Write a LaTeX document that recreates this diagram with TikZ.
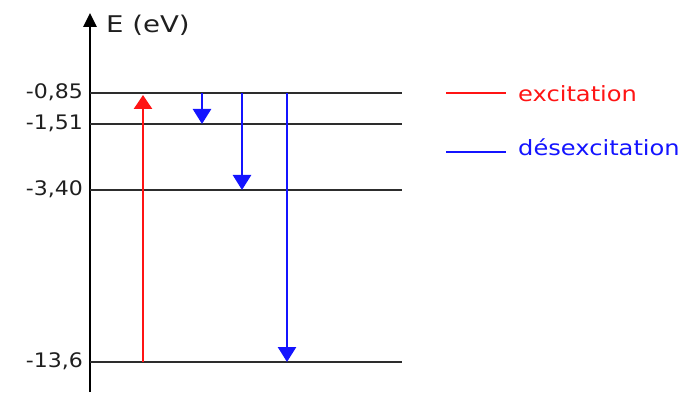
\documentclass[tikz,border=0pt]{standalone}
\usepackage{fontspec}
\setmainfont{DejaVu Sans}
\usetikzlibrary{arrows.meta}
\definecolor{exc}{RGB}{255,20,20}
\definecolor{desexc}{RGB}{20,20,255}
\definecolor{lvl}{RGB}{45,45,45}
\tikzset{
  axis/.style={line width=2.6pt,-{Triangle[length=14pt,width=13pt]}},
  niveau/.style={draw=lvl,line width=2.6pt},
  up/.style={draw=exc,line width=2.6pt,-{Triangle[length=14pt,width=18pt]},shorten >=2pt},
  down/.style={draw=desexc,line width=2.6pt,-{Triangle[length=15pt,width=18pt]}},
  txt/.style={inner sep=0pt,xscale=1.1,font=\fontsize{20}{24}\selectfont,text=black!88},
  leg/.style={txt,xscale=1.045,font=\fontsize{21}{25}\selectfont}
}

\begin{document}
\begin{tikzpicture}[x=1pt,y=-1pt]
  \useasboundingbox (0,0) rectangle (693,395);

  % axe des energies
  \coordinate (O) at (90,392);
  \coordinate (Top) at (90,13);
  \draw[axis] (O) -- (Top);
  \node[txt,xscale=1.09,font=\fontsize{23}{27}\selectfont,anchor=west] (E) at (106,25) {E (eV)};

  % niveaux d'energie
  \foreach \n/\y/\v in {1/362/{-13,6},2/190/{-3,40},3/124/{-1,51},4/93/{-0,85}}{
    \coordinate (n\n) at (90,\y);
    \coordinate (m\n) at (402,\y);
    \draw[niveau] (n\n) -- (m\n);
    \node[txt,anchor=mid east] (v\n) at (83,\y+3) {\v};
  }

  % transitions
  \coordinate (c1) at (143,0);
  \coordinate (c2) at (202,0);
  \coordinate (c3) at (242,0);
  \coordinate (c4) at (287,0);
  \draw[up] (c1 |- n1) -- (c1 |- n4);
  \draw[down] (c2 |- n4) -- (c2 |- n3);
  \draw[down] (c3 |- n4) -- (c3 |- n2);
  \draw[down] (c4 |- n4) -- (c4 |- n1);

  % legende
  \coordinate (r1) at (446,93);
  \coordinate (r2) at (506,93);
  \coordinate (b1) at (446,152);
  \coordinate (b2) at (506,152);
  \draw[exc,line width=2.6pt] (r1) -- (r2);
  \draw[desexc,line width=2.6pt] (b1) -- (b2);
  \node[leg,text=exc,anchor=mid west] (lexc) at (518,99) {excitation};
  \node[leg,text=desexc,anchor=mid west] (ldes) at (518,153) {désexcitation};
\end{tikzpicture}
\end{document}
